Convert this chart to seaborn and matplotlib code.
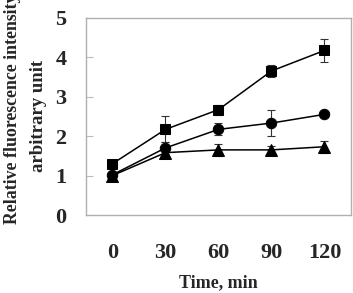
import numpy as np
import pandas as pd
import seaborn as sns
import matplotlib.pyplot as plt

# Values
times = ['0', '30', '60', '90', '120']
square_mean = [1.30, 2.17, 2.67, 3.65, 4.17]
square_err = [0.05, 0.33, 0.13, 0.15, 0.30]
circle_mean = [1.02, 1.70, 2.17, 2.33, 2.55]
circle_err = [0.05, 0.15, 0.15, 0.32, 0.07]
triangle_mean = [1.00, 1.58, 1.65, 1.65, 1.73]
triangle_err = [0.03, 0.05, 0.15, 0.10, 0.15]

sns.set_style('white')
plt.rcParams['font.family'] = ['Liberation Serif', 'DejaVu Serif']
plt.rcParams['font.weight'] = 'bold'

series = {
    's': (square_mean, square_err),
    'o': (circle_mean, circle_err),
    '^': (triangle_mean, triangle_err),
}

rows = []
for mk, (m, e) in series.items():
    for i, t in enumerate(times):
        rows.append({'pos': i, 'value': m[i], 'err': e[i], 'marker': mk})
df = pd.DataFrame(rows)

fig = plt.figure(figsize=(3.53, 2.93), dpi=100)
ax = fig.add_axes([0.2436, 0.2662, 0.7507, 0.6734])

for mk, grp in df.groupby('marker', sort=False):
    ax.errorbar(grp['pos'], grp['value'], yerr=grp['err'], fmt='none',
                ecolor='#333333', elinewidth=0.8, capsize=3, capthick=0.8, zorder=2)
    sns.lineplot(data=grp, x='pos', y='value', marker=mk, color='black',
                 markersize=7.5 if mk != '^' else 8, markeredgecolor='black',
                 linewidth=1.1, ax=ax, zorder=3)

ax.set_xlim(-0.5, 4.5)
ax.set_ylim(0, 5)
ax.set_xticks(range(len(times)))
ax.set_xticklabels(times)
ax.set_xticks([0.5, 1.5, 2.5, 3.5], minor=True)
ax.set_yticks(range(6))
ax.tick_params(axis='x', which='major', length=0, pad=20, labelsize=16)
ax.tick_params(axis='x', which='minor', direction='in', length=5, color='#bbbbbb', width=0.8)
ax.tick_params(axis='y', direction='in', length=5, color='#bbbbbb', width=0.8,
               pad=14, labelsize=16, left=True)
for lab in ax.get_xticklabels() + ax.get_yticklabels():
    lab.set_fontweight('bold')

for sp in ax.spines.values():
    sp.set_color('#b0b0b0')
    sp.set_linewidth(1.0)

ax.set_xlabel('Time, min', fontsize=13, fontweight='bold', labelpad=8)
# y label: two lines, the first one runs past the top edge like in the original
ax.set_ylabel('arbitrary unit', fontsize=13.5, fontweight='bold')
ax.yaxis.set_label_coords(-0.147, 0.5)
fig.text(0.034, 0.628, 'Relative fluorescence intensity', rotation=90,
         ha='center', va='center', fontsize=12.8, fontweight='bold')

fig.savefig('out.png', dpi=100)
